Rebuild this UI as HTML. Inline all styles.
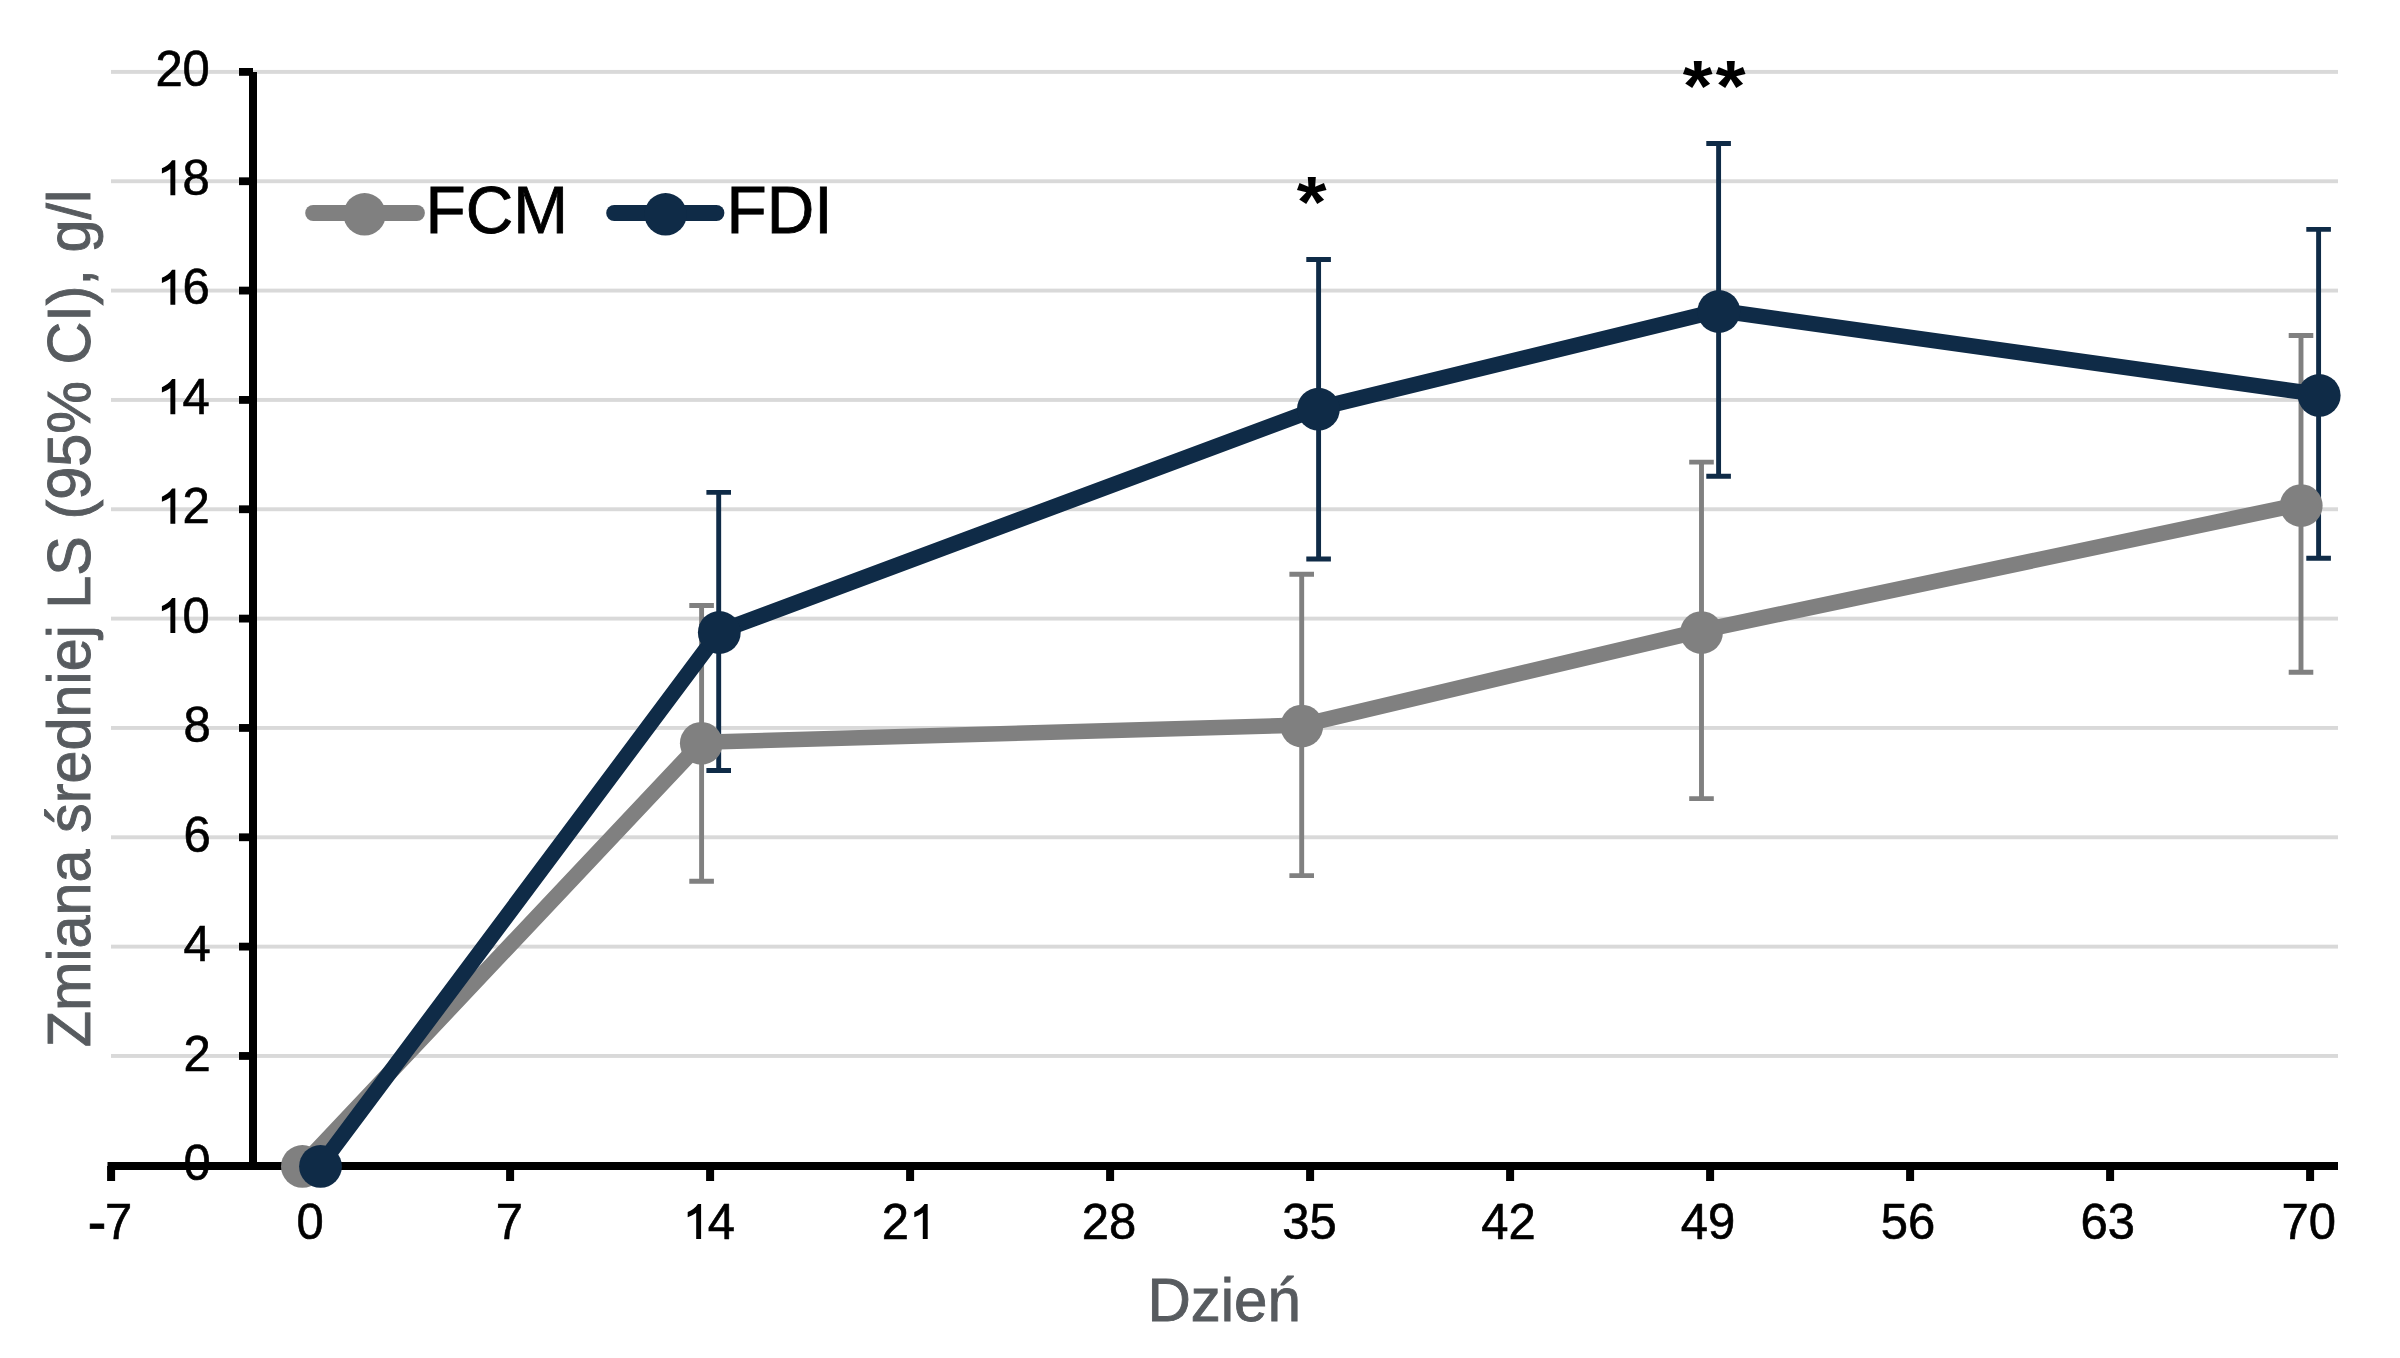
<!DOCTYPE html>
<html><head><meta charset="utf-8"><style>
html,body{margin:0;padding:0;background:#fff;overflow:hidden;}
svg{display:block;}
</style></head><body>
<svg width="2400" height="1358" viewBox="0 0 2400 1358">
<rect width="2400" height="1358" fill="#FFFFFF"/>
<rect x="111" y="1054.01" width="2227" height="3.9" fill="#D9D9D9"/>
<rect x="111" y="944.67" width="2227" height="3.9" fill="#D9D9D9"/>
<rect x="111" y="835.33" width="2227" height="3.9" fill="#D9D9D9"/>
<rect x="111" y="725.99" width="2227" height="3.9" fill="#D9D9D9"/>
<rect x="111" y="616.65" width="2227" height="3.9" fill="#D9D9D9"/>
<rect x="111" y="507.31" width="2227" height="3.9" fill="#D9D9D9"/>
<rect x="111" y="397.97" width="2227" height="3.9" fill="#D9D9D9"/>
<rect x="111" y="288.63" width="2227" height="3.9" fill="#D9D9D9"/>
<rect x="111" y="179.29" width="2227" height="3.9" fill="#D9D9D9"/>
<rect x="111" y="69.95" width="2227" height="3.9" fill="#D9D9D9"/>
<g fill="#000">
<rect x="249" y="72" width="8" height="1098"/>
<rect x="107.5" y="1162" width="2230.5" height="8"/>
<rect x="239" y="1052.06" width="14" height="7.8"/>
<rect x="239" y="942.72" width="14" height="7.8"/>
<rect x="239" y="833.38" width="14" height="7.8"/>
<rect x="239" y="724.04" width="14" height="7.8"/>
<rect x="239" y="614.70" width="14" height="7.8"/>
<rect x="239" y="505.36" width="14" height="7.8"/>
<rect x="239" y="396.02" width="14" height="7.8"/>
<rect x="239" y="286.68" width="14" height="7.8"/>
<rect x="239" y="177.34" width="14" height="7.8"/>
<rect x="239" y="68.00" width="14" height="7.8"/>
<rect x="107.10" y="1166" width="8" height="15"/>
<rect x="306.10" y="1166" width="8" height="15"/>
<rect x="506.10" y="1166" width="8" height="15"/>
<rect x="706.10" y="1166" width="8" height="15"/>
<rect x="906.10" y="1166" width="8" height="15"/>
<rect x="1106.10" y="1166" width="8" height="15"/>
<rect x="1306.10" y="1166" width="8" height="15"/>
<rect x="1506.10" y="1166" width="8" height="15"/>
<rect x="1706.10" y="1166" width="8" height="15"/>
<rect x="1906.10" y="1166" width="8" height="15"/>
<rect x="2106.10" y="1166" width="8" height="15"/>
<rect x="2306.10" y="1166" width="8" height="15"/>
</g>
<path d="M701.60,605.50V881.30M689.30,605.50H713.90M689.30,881.30H713.90" stroke="#808080" stroke-width="4.9" fill="none"/>
<path d="M1301.70,574.30V875.60M1289.40,574.30H1314.00M1289.40,875.60H1314.00" stroke="#808080" stroke-width="4.9" fill="none"/>
<path d="M1701.50,462.10V798.60M1689.20,462.10H1713.80M1689.20,798.60H1713.80" stroke="#808080" stroke-width="4.9" fill="none"/>
<path d="M2301.00,335.50V672.30M2288.70,335.50H2313.30M2288.70,672.30H2313.30" stroke="#808080" stroke-width="4.9" fill="none"/>
<path d="M718.70,492.40V770.50M706.40,492.40H731.00M706.40,770.50H731.00" stroke="#0F2B47" stroke-width="4.9" fill="none"/>
<path d="M1318.60,259.50V559.00M1306.30,259.50H1330.90M1306.30,559.00H1330.90" stroke="#0F2B47" stroke-width="4.9" fill="none"/>
<path d="M1718.60,143.50V476.20M1706.30,143.50H1730.90M1706.30,476.20H1730.90" stroke="#0F2B47" stroke-width="4.9" fill="none"/>
<path d="M2318.60,229.40V558.30M2306.30,229.40H2330.90M2306.30,558.30H2330.90" stroke="#0F2B47" stroke-width="4.9" fill="none"/>
<path d="M302.4,1166.4 L701.3,743.3 L1301.8,726.1 L1701.5,631.6 L2301.2,505.1" transform="translate(0,-1.0)" fill="none" stroke="#808080" stroke-width="15.6" stroke-linejoin="round" stroke-linecap="round"/><circle cx="302.4" cy="1166.4" r="21.4" fill="#808080"/><circle cx="701.3" cy="743.3" r="21.4" fill="#808080"/><circle cx="1301.8" cy="726.1" r="21.4" fill="#808080"/><circle cx="1701.5" cy="632.6" r="21.4" fill="#808080"/><circle cx="2301.2" cy="505.6" r="21.4" fill="#808080"/>
<path d="M320.5,1166.4 L719.3,632.5 L1318.4,409.2 L1718.8,311.5 L2319.2,395.4" transform="translate(0,-1.0)" fill="none" stroke="#0F2B47" stroke-width="15.6" stroke-linejoin="round" stroke-linecap="round"/><circle cx="320.5" cy="1166.4" r="21.4" fill="#0F2B47"/><circle cx="719.3" cy="632.5" r="21.4" fill="#0F2B47"/><circle cx="1318.4" cy="409.2" r="21.4" fill="#0F2B47"/><circle cx="1718.8" cy="311.5" r="21.4" fill="#0F2B47"/><circle cx="2319.2" cy="395.4" r="21.4" fill="#0F2B47"/>
<g font-family="&quot;Liberation Sans&quot;, sans-serif" font-size="49" fill="#000" stroke="#000" stroke-width="0.6" text-anchor="middle">
<text x="197.10" y="0" transform="translate(0,1180.00) scale(1,1.005)">0</text>
<text x="197.10" y="0" transform="translate(0,1070.56) scale(1,1.005)">2</text>
<text x="197.10" y="0" transform="translate(0,961.12) scale(1,1.005)">4</text>
<text x="197.10" y="0" transform="translate(0,851.68) scale(1,1.005)">6</text>
<text x="197.10" y="0" transform="translate(0,742.24) scale(1,1.005)">8</text>
<path stroke="none" d="M175.30,633.10L170.40,633.10L170.40,606.80C168.10,608.60 165.00,610.20 161.90,611.30L161.90,606.10C165.30,604.80 169.70,601.90 172.10,598.00L175.30,598.00Z"/>
<text x="196.20" y="0" transform="translate(0,632.80) scale(1,1.005)">0</text>
<path stroke="none" d="M175.30,523.66L170.40,523.66L170.40,497.36C168.10,499.16 165.00,500.76 161.90,501.86L161.90,496.66C165.30,495.36 169.70,492.46 172.10,488.56L175.30,488.56Z"/>
<text x="196.20" y="0" transform="translate(0,523.36) scale(1,1.005)">2</text>
<path stroke="none" d="M175.30,414.22L170.40,414.22L170.40,387.92C168.10,389.72 165.00,391.32 161.90,392.42L161.90,387.22C165.30,385.92 169.70,383.02 172.10,379.12L175.30,379.12Z"/>
<text x="196.20" y="0" transform="translate(0,413.92) scale(1,1.005)">4</text>
<path stroke="none" d="M175.30,304.78L170.40,304.78L170.40,278.48C168.10,280.28 165.00,281.88 161.90,282.98L161.90,277.78C165.30,276.48 169.70,273.58 172.10,269.68L175.30,269.68Z"/>
<text x="196.20" y="0" transform="translate(0,304.48) scale(1,1.005)">6</text>
<path stroke="none" d="M175.30,195.34L170.40,195.34L170.40,169.04C168.10,170.84 165.00,172.44 161.90,173.54L161.90,168.34C165.30,167.04 169.70,164.14 172.10,160.24L175.30,160.24Z"/>
<text x="196.20" y="0" transform="translate(0,195.04) scale(1,1.005)">8</text>
<text x="169.10" y="0" transform="translate(0,85.60) scale(1,1.005)">2</text>
<text x="196.20" y="0" transform="translate(0,85.60) scale(1,1.005)">0</text>
<rect x="90.1" y="1223.9" width="13.8" height="4.8"/>
<text x="118.55" y="0" transform="translate(0,1238.70) scale(1,1.005)">7</text>
<text x="310.15" y="0" transform="translate(0,1238.70) scale(1,1.005)">0</text>
<text x="509.50" y="0" transform="translate(0,1238.70) scale(1,1.005)">7</text>
<path stroke="none" d="M701.10,1239.00L696.20,1239.00L696.20,1212.70C693.90,1214.50 690.80,1216.10 687.70,1217.20L687.70,1212.00C691.10,1210.70 695.50,1207.80 697.90,1203.90L701.10,1203.90Z"/>
<text x="721.45" y="0" transform="translate(0,1238.70) scale(1,1.005)">4</text>
<text x="895.40" y="0" transform="translate(0,1238.70) scale(1,1.005)">2</text>
<path stroke="none" d="M927.70,1239.00L922.80,1239.00L922.80,1212.70C920.50,1214.50 917.40,1216.10 914.30,1217.20L914.30,1212.00C917.70,1210.70 922.10,1207.80 924.50,1203.90L927.70,1203.90Z"/>
<text x="1095.40" y="0" transform="translate(0,1238.70) scale(1,1.005)">2</text>
<text x="1122.60" y="0" transform="translate(0,1238.70) scale(1,1.005)">8</text>
<text x="1296.00" y="0" transform="translate(0,1238.70) scale(1,1.005)">3</text>
<text x="1323.20" y="0" transform="translate(0,1238.70) scale(1,1.005)">5</text>
<text x="1494.85" y="0" transform="translate(0,1238.70) scale(1,1.005)">4</text>
<text x="1522.05" y="0" transform="translate(0,1238.70) scale(1,1.005)">2</text>
<text x="1694.35" y="0" transform="translate(0,1238.70) scale(1,1.005)">4</text>
<text x="1721.55" y="0" transform="translate(0,1238.70) scale(1,1.005)">9</text>
<text x="1894.50" y="0" transform="translate(0,1238.70) scale(1,1.005)">5</text>
<text x="1921.70" y="0" transform="translate(0,1238.70) scale(1,1.005)">6</text>
<text x="2094.10" y="0" transform="translate(0,1238.70) scale(1,1.005)">6</text>
<text x="2121.30" y="0" transform="translate(0,1238.70) scale(1,1.005)">3</text>
<text x="2295.05" y="0" transform="translate(0,1238.70) scale(1,1.005)">7</text>
<text x="2322.25" y="0" transform="translate(0,1238.70) scale(1,1.005)">0</text>
</g>
<line x1="313.2" y1="213" x2="416.9" y2="213" stroke="#808080" stroke-width="16" stroke-linecap="round"/>
<circle cx="364.6" cy="214.3" r="21.2" fill="#808080"/>
<line x1="614.2" y1="213" x2="716.4" y2="213" stroke="#0F2B47" stroke-width="16" stroke-linecap="round"/>
<circle cx="665.6" cy="214.3" r="21.2" fill="#0F2B47"/>
<g font-family="&quot;Liberation Sans&quot;, sans-serif" font-size="65.8" fill="#000" stroke="#000" stroke-width="0.8">
<text x="0" y="0" transform="translate(425.5,232.7) scale(1,1.01)">FCM</text>
<text x="0" y="0" transform="translate(726.6,232.7) scale(1,1.01)">FDI</text>
</g>
<g font-family="&quot;Liberation Sans&quot;, sans-serif" font-weight="bold" font-size="73" fill="#000" text-anchor="middle">
<text x="0" y="0" transform="translate(1311.55,226.8) scale(1.05,1)">*</text>
<text x="0" y="0" transform="translate(1697.55,110.7) scale(1.05,1)">*</text>
<text x="0" y="0" transform="translate(1730.65,110.7) scale(1.05,1)">*</text>
</g>
<text font-family="&quot;Liberation Sans&quot;, sans-serif" font-size="60.6" fill="#575B5F" stroke="#575B5F" stroke-width="0.9" x="0" y="0" transform="translate(1147.5,1321.2) scale(0.99,1.02)">Dzień</text>
<text font-family="&quot;Liberation Sans&quot;, sans-serif" font-size="60.6" fill="#575B5F" stroke="#575B5F" stroke-width="0.9" x="0" y="0" textLength="857.5" lengthAdjust="spacingAndGlyphs" transform="translate(89.8,1047.3) rotate(-90) scale(1,1.02)">Zmiana średniej LS (95% CI), g/l</text>
</svg>
</body></html>
